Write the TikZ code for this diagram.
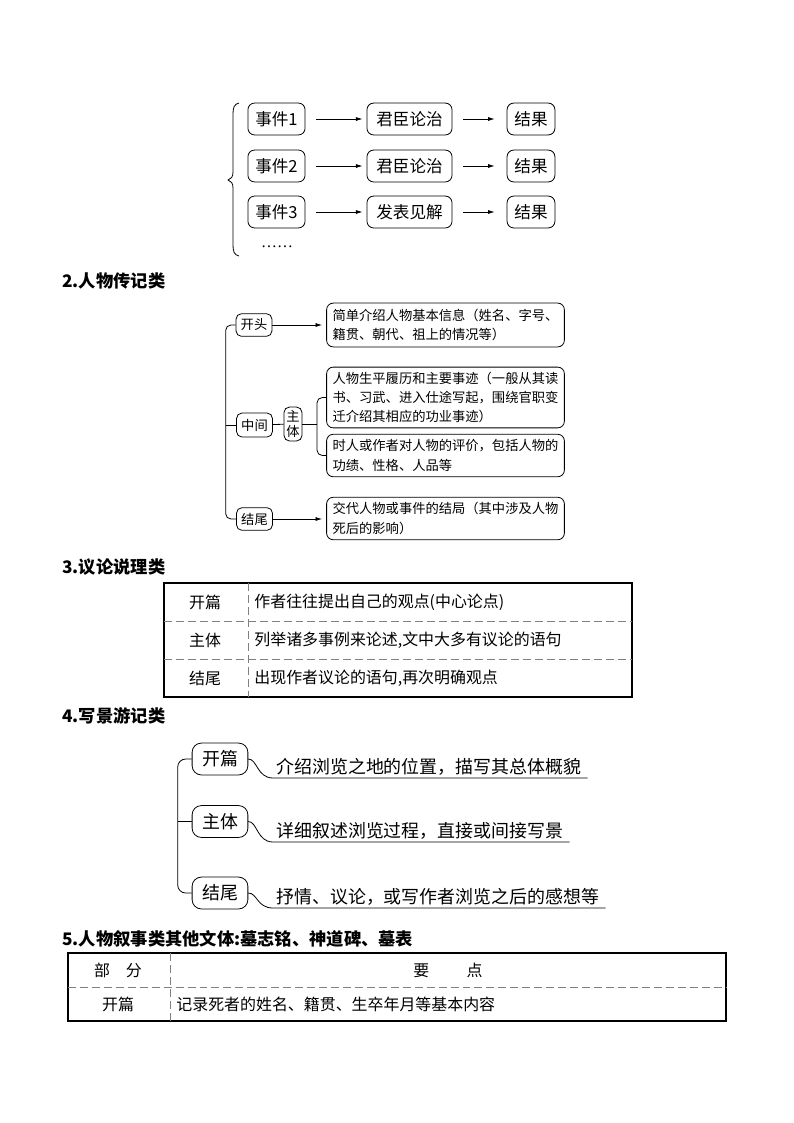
\documentclass[tikz,border=0pt]{standalone}
\usepackage{fontspec}
\setmainfont{Noto Sans CJK SC}
\newfontfamily\serifdots{Liberation Serif}
\usepackage{tikz}
\usetikzlibrary{arrows.meta}
\usetikzlibrary{positioning}

\begin{document}
\begin{tikzpicture}[x=0.2646mm,y=-0.2646mm,line width=0.6pt,
  evbox/.style={draw,rounded corners=5pt,minimum height=24pt,inner sep=0pt,font=\fontsize{12.5}{15}\selectfont},
  bio/.style={draw,rounded corners=4pt,inner sep=0pt,font=\fontsize{10}{12}\selectfont},
  bionote/.style={draw,rounded corners=5pt,align=left,minimum width=179pt,inner sep=0pt,font=\fontsize{10}{14.5}\selectfont},
  partbox/.style={draw,rounded corners=7pt,minimum width=42pt,minimum height=24pt,inner sep=0pt,font=\fontsize{13.5}{16}\selectfont},
  txtline/.style={anchor=base west,inner sep=0pt,font=\fontsize{13.5}{16}\selectfont},
  cell/.style={inner sep=0pt,font=\fontsize{12}{14}\selectfont},
  headline/.style={anchor=west,inner sep=0pt,font=\fontsize{13}{15}\selectfont\bfseries},
  arr/.style={-{Latex[length=5pt,width=3pt]}},
  sepline/.style={gray,dash pattern=on 6pt off 3pt,line width=0.5pt},
  tableframe/.style={line width=1.6pt}]

\fill[white] (0,0) rectangle (794,1123);
\useasboundingbox (0,0) rectangle (794,1123);

% events
\draw[semithick] (239,103) .. controls (234,104) and (233,108) .. (233,114) -- (233,172)
  .. controls (233,177) and (231,179) .. (228,180) .. controls (231,181) and (233,183) .. (233,188)
  -- (233,245) .. controls (233,251) and (234,255) .. (239,256);
\foreach \n/\y/\t in {1/119/君臣论治,2/166/君臣论治,3/212/发表见解}{
  \node[evbox,minimum width=43pt] (ev\n) at (276.5,\y) {事件\n};
  \node[evbox,minimum width=64pt] (talk\n) at (409.5,\y) {\t};
  \node[evbox,minimum width=36pt] (res\n) at (531,\y) {结果};
  \draw[arr,shorten <=8pt,shorten >=3pt] (ev\n) -- (talk\n);
  \draw[arr,shorten <=8pt,shorten >=9pt] (talk\n) -- (res\n);
}
\node[inner sep=0pt,font=\serifdots\fontsize{12}{14}\selectfont] (more) at (277,247) {……};

% biography
\node[headline] (h2) at (62,281) {2.人物传记类};
\node[bio,minimum width=27pt,minimum height=17pt] (open) at (254,325) {开头};
\node[bio,minimum width=27pt,minimum height=18pt] (middle) at (254.5,425) {中间};
\node[bio,minimum width=27pt,minimum height=17pt] (close) at (254.5,519) {结尾};
\node[bio,align=center,minimum width=13.5pt,minimum height=25.5pt,font=\fontsize{10}{11}\selectfont] (body) at (293,424) {主\\体};
\node[bionote,minimum height=33pt] (info) at (445.5,325) {简单介绍人物基本信息（姓名、字号、\\籍贯、朝代、祖上的情况等）};
\node[bionote,minimum height=45.75pt] (deeds) at (445.5,397.5) {人物生平履历和主要事迹（一般从其读\\书、习武、进入仕途写起，围绕官职变\\迁介绍其相应的功业事迹）};
\node[bionote,minimum height=32pt] (view) at (445.5,455.5) {时人或作者对人物的评价，包括人物的\\功绩、性格、人品等};
\node[bionote,minimum height=32pt] (fate) at (445.5,518.5) {交代人物或事件的结局（其中涉及人物\\死后的影响）};
\coordinate (fork) at (317,424);
\draw[rounded corners=4pt] (open.west) -- ++(-10,0) |- (close.west);
\draw (middle.west) -- ++(-10,0);
\draw[arr,shorten >=3pt] (open) -- (info);
\draw[arr,shorten >=3pt] (close.east) -- (close.east -| fate.west);
\draw (middle) -- (body);
\draw (body) -- (fork);
\draw[rounded corners=4pt] (deeds.west) -| (fork) |- (view.west);

% argument
\node[headline] (h3) at (62,567) {3.议论说理类};
\draw[tableframe] (164,583) rectangle (632,697);
\draw[sepline] (164,621) -- (632,621) (164,659) -- (632,659) (248,583) -- (248,697);
\node[cell] (a1) at (205,602) {开篇};
\node[cell,anchor=west] (b1) at (254,602) {作者往往提出自己的观点(中心论点)};
\node[cell] (a2) at (205,640) {主体};
\node[cell,anchor=west] (b2) at (254,640) {列举诸多事例来论述,文中大多有议论的语句};
\node[cell] (a3) at (205,678) {结尾};
\node[cell,anchor=west] (b3) at (254,678) {出现作者议论的语句,再次明确观点};

% travel
\node[headline] (h4) at (62,716) {4.写景游记类};
\node[partbox] (p1) at (220,759) {开篇};
\node[partbox] (p2) at (220,821.5) {主体};
\node[partbox] (p3) at (220,893) {结尾};
\draw[rounded corners=6pt] (p1.west) -- ++(-14,0) |- (p3.west);
\draw (p2.west) -- ++(-14,0);
\node[txtline] (s1) at (276,773) {介绍浏览之地的位置，描写其总体概貌};
\node[txtline] (s2) at (276,837) {详细叙述浏览过程，直接或间接写景};
\node[txtline] (s3) at (276,903) {抒情、议论，或写作者浏览之后的感想等};
\coordinate (u1) at (273,778);
\coordinate (u2) at (273,842);
\coordinate (u3) at (273,908);
\foreach \k in {1,2,3}
  \draw (p\k.east) .. controls +(9,0) and +(-16,0) .. (u\k) -- (s\k.east |- u\k) -- ++(6,0);

% epitaph
\node[headline] (h5) at (62,939) {5.人物叙事类其他文体:墓志铭、神道碑、墓表};
\draw[tableframe] (68,953) rectangle (726,1021);
\draw[sepline] (68,987) -- (726,987) (170,953) -- (170,1021);
\node[cell] (c1) at (118,970) {部\quad 分};
\node[cell] (c2) at (448,970) {要\hspace{28pt}点};
\node[cell] (c3) at (118,1004) {开篇};
\node[cell,anchor=west] (c4) at (176,1004) {记录死者的姓名、籍贯、生卒年月等基本内容};
\end{tikzpicture}
\end{document}
